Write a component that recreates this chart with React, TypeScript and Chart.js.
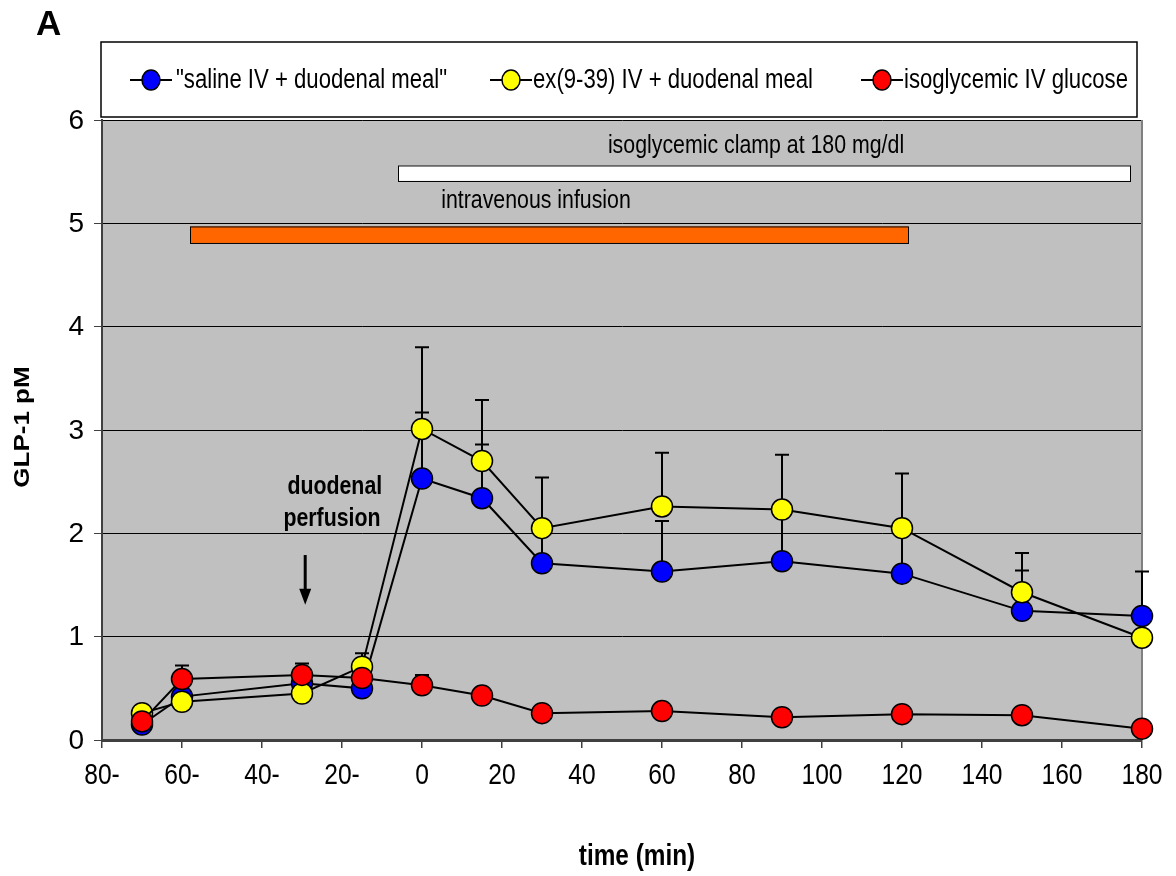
import React, { useEffect, useRef } from "react";
import { Chart, registerables } from "chart.js";

Chart.register(...registerables);

const timePoints = [-70, -60, -30, -15, 0, 15, 30, 60, 90, 120, 150, 180];
const salineMeal = [0.15, 0.42, 0.55, 0.5, 2.53, 2.34, 1.71, 1.63, 1.73, 1.61, 1.25, 1.2];
const salineMealErr = [0, 0.2, 0.1, 0.1, 0.64, 0.52, 0.3, 0.49, 0.45, 0.4, 0.39, 0.43];
const exendinMeal = [0.26, 0.37, 0.45, 0.71, 3.01, 2.7, 2.05, 2.26, 2.23, 2.05, 1.43, 0.99];
const exendinMealErr = [0, 0.08, 0.08, 0.13, 0.79, 0.59, 0.49, 0.52, 0.53, 0.53, 0.38, 0];
const ivGlucose = [0.18, 0.59, 0.63, 0.6, 0.53, 0.43, 0.26, 0.28, 0.22, 0.25, 0.24, 0.11];
const ivGlucoseErr = [0, 0.13, 0.11, 0.05, 0.1, 0.05, 0.03, 0.03, 0.03, 0.03, 0.03, 0];

const seriesLabels = ['"saline IV + duodenal meal"', "ex(9-39) IV + duodenal meal", "isoglycemic IV glucose"];
const seriesColors = ["#0000FF", "#FFFF00", "#FF0000"];

const clampBar = { label: "isoglycemic clamp at 180 mg/dl", from: -6, to: 177, top: 5.56, bottom: 5.41 };
const infusionBar = { label: "intravenous infusion", from: -58, to: 121.5, top: 4.97, bottom: 4.81 };

const SANS = '"Liberation Sans", Arial, sans-serif';
const SQUEEZE = 0.82;

const allErrors = [salineMealErr, exendinMealErr, ivGlucoseErr];

function narrowText(ctx: any, text: string, x: number, y: number, font: string, align: string, sq: number = SQUEEZE) {
  ctx.save();
  ctx.font = font;
  ctx.textBaseline = "middle";
  ctx.textAlign = align;
  ctx.fillStyle = "#000";
  ctx.translate(x, y);
  ctx.scale(sq, 1);
  ctx.fillText(text, 0, 0);
  ctx.restore();
}

const annotationPlugin = {
  id: "annotations",
  beforeDraw(chart: any) {
    const { ctx, chartArea } = chart;
    ctx.save();
    ctx.fillStyle = "#ffffff";
    ctx.fillRect(0, 0, chart.width, chart.height);
    ctx.fillStyle = "#C0C0C0";
    ctx.fillRect(chartArea.left, chartArea.top, chartArea.right - chartArea.left, chartArea.bottom - chartArea.top);
    ctx.restore();
  },
  beforeDatasetsDraw(chart: any) {
    const { ctx, chartArea } = chart;
    const xs = chart.scales.x;
    const ys = chart.scales.y;
    ctx.save();
    ctx.strokeStyle = "#808080";
    ctx.lineWidth = 2;
    ctx.beginPath();
    ctx.moveTo(chartArea.right, chartArea.top);
    ctx.lineTo(chartArea.right, chartArea.bottom);
    ctx.stroke();

    const drawBar = (b: any, fill: string) => {
      const x1 = xs.getPixelForValue(b.from);
      const x2 = xs.getPixelForValue(b.to);
      const y1 = ys.getPixelForValue(b.top);
      const y2 = ys.getPixelForValue(b.bottom);
      ctx.fillStyle = fill;
      ctx.fillRect(x1, y1, x2 - x1, y2 - y1);
      ctx.strokeStyle = "#000";
      ctx.lineWidth = 1;
      ctx.strokeRect(x1 + 0.5, y1 + 0.5, x2 - x1, y2 - y1);
    };
    drawBar(clampBar, "#ffffff");
    drawBar(infusionBar, "#FF6600");

    narrowText(ctx, clampBar.label, xs.getPixelForValue(83.5), ys.getPixelForValue(5.75), `26px ${SANS}`, "center");
    narrowText(ctx, infusionBar.label, xs.getPixelForValue(28.5), ys.getPixelForValue(5.22), `26px ${SANS}`, "center");

    narrowText(ctx, "duodenal", xs.getPixelForValue(-21.8), ys.getPixelForValue(2.45), `bold 26px ${SANS}`, "center");
    narrowText(ctx, "perfusion", xs.getPixelForValue(-22.5), ys.getPixelForValue(2.14), `bold 26px ${SANS}`, "center");

    const ax = xs.getPixelForValue(-29.2);
    const ay1 = ys.getPixelForValue(1.79);
    const ay2 = ys.getPixelForValue(1.31);
    ctx.strokeStyle = "#000";
    ctx.fillStyle = "#000";
    ctx.lineWidth = 3;
    ctx.beginPath();
    ctx.moveTo(ax, ay1);
    ctx.lineTo(ax, ay2 - 12);
    ctx.stroke();
    ctx.beginPath();
    ctx.moveTo(ax - 6, ay2 - 16);
    ctx.lineTo(ax + 6, ay2 - 16);
    ctx.lineTo(ax, ay2);
    ctx.closePath();
    ctx.fill();

    ctx.lineWidth = 2;
    ctx.strokeStyle = "#000";
    chart.data.datasets.forEach((ds: any, i: number) => {
      const errs = allErrors[i];
      ds.data.forEach((p: any, j: number) => {
        const e = errs[j];
        if (!e) return;
        const px = xs.getPixelForValue(p.x);
        const py = ys.getPixelForValue(p.y);
        const pt = ys.getPixelForValue(p.y + e);
        ctx.beginPath();
        ctx.moveTo(px, py);
        ctx.lineTo(px, pt);
        ctx.moveTo(px - 7, pt);
        ctx.lineTo(px + 7, pt);
        ctx.stroke();
      });
    });
    ctx.restore();
  },
  afterDraw(chart: any) {
    const { ctx } = chart;
    const xs = chart.scales.x;
    const ys = chart.scales.y;
    ctx.save();

    // tick labels
    xs.ticks.forEach((t: any) => {
      const v = Number(t.value);
      const label = v < 0 ? `${-v}-` : `${v}`;
      narrowText(ctx, label, xs.getPixelForValue(v), 776, `30px ${SANS}`, "center", 0.82);
    });
    ys.ticks.forEach((t: any) => {
      const v = Number(t.value);
      narrowText(ctx, `${v}`, 84, ys.getPixelForValue(v) + 1, `28px ${SANS}`, "right", 1);
    });

    // Legend box
    const lx = 101, ly = 42, lw = 1036, lh = 75;
    ctx.fillStyle = "#ffffff";
    ctx.fillRect(lx, ly, lw, lh);
    ctx.strokeStyle = "#000";
    ctx.lineWidth = 1.5;
    ctx.strokeRect(lx, ly, lw, lh);
    const items = [
      { x: 130, tx: 176 },
      { x: 490, tx: 533 },
      { x: 861, tx: 904 },
    ];
    items.forEach((it, i) => {
      const cy = 80;
      ctx.strokeStyle = "#000";
      ctx.lineWidth = 2;
      ctx.beginPath();
      ctx.moveTo(it.x, cy);
      ctx.lineTo(it.x + 42, cy);
      ctx.stroke();
      ctx.beginPath();
      ctx.ellipse(it.x + 21, cy, 9, 10, 0, 0, Math.PI * 2);
      ctx.fillStyle = seriesColors[i];
      ctx.fill();
      ctx.lineWidth = 1.5;
      ctx.stroke();
      narrowText(ctx, seriesLabels[i], it.tx, cy + 1, `27px ${SANS}`, "left");
    });

    // Panel letter
    ctx.fillStyle = "#000";
    ctx.font = `bold 35px ${SANS}`;
    ctx.textAlign = "left";
    ctx.textBaseline = "alphabetic";
    ctx.fillText("A", 36, 35);

    // axis titles
    narrowText(ctx, "time (min)", 637, 857, `bold 29px ${SANS}`, "center", 0.84);
    ctx.save();
    ctx.translate(23, 427);
    ctx.rotate(-Math.PI / 2);
    ctx.font = `bold 26px ${SANS}`;
    ctx.textAlign = "center";
    ctx.textBaseline = "middle";
    ctx.fillStyle = "#000";
    ctx.scale(1.0, 0.85);
    ctx.fillText("GLP-1 pM", 0, 0);
    ctx.restore();
    ctx.restore();
  },
};

export default function App() {
  const canvasRef = useRef<HTMLCanvasElement | null>(null);

  useEffect(() => {
    if (!canvasRef.current) return;
    const seriesValues = [salineMeal, exendinMeal, ivGlucose];
    const chart = new Chart(canvasRef.current, {
      type: "line",
      data: {
        datasets: seriesValues.map((vals, i) => ({
          label: seriesLabels[i],
          data: vals.map((v, j) => ({ x: timePoints[j], y: v })),
          borderColor: "#000",
          borderWidth: 2,
          backgroundColor: seriesColors[i],
          pointBackgroundColor: seriesColors[i],
          pointBorderColor: "#000",
          pointBorderWidth: 1.5,
          pointRadius: 10.5,
          tension: 0,
          clip: false as any,
          order: 3 - i,
        })),
      },
      options: {
        animation: false,
        responsive: false,
        maintainAspectRatio: false,
        events: [],
        layout: { padding: { top: 120, right: 34, left: 0, bottom: 0 } },
        plugins: {
          legend: { display: false },
          tooltip: { enabled: false },
        },
        scales: {
          x: {
            type: "linear",
            min: -80,
            max: 180,
            afterFit(scale: any) {
              scale.height = 136;
            },
            ticks: {
              display: false,
              stepSize: 20,
              autoSkip: false,
              maxRotation: 0,
            },
            grid: {
              display: true,
              drawOnChartArea: false,
              drawTicks: true,
              tickLength: 8,
              color: "#404040",
              lineWidth: 1.5,
            },
            border: { display: true, color: "#404040", width: 3 },
          },
          y: {
            type: "linear",
            min: 0,
            max: 6,
            afterFit(scale: any) {
              scale.width = 102;
            },
            ticks: {
              display: false,
              stepSize: 1,
            },
            grid: {
              color: "#000",
              lineWidth: 1,
              tickLength: 8,
              tickColor: "#404040",
            },
            border: { display: true, color: "#404040", width: 2 },
          },
        },
      },
      plugins: [annotationPlugin],
    });
    return () => chart.destroy();
  }, []);

  return (
    <div style={{ position: "fixed", left: 0, top: 0, width: 1176, height: 876, background: "#fff" }}>
      <canvas ref={canvasRef} width={1176} height={876} style={{ width: 1176, height: 876, display: "block" }} />
    </div>
  );
}
